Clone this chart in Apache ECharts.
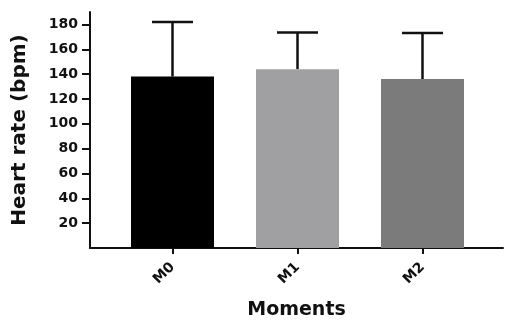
<!DOCTYPE html>
<html><head><meta charset="utf-8">
<script src="https://cdn.jsdelivr.net/npm/echarts@6/dist/echarts.min.js"></script>
<style>html,body{margin:0;padding:0;background:#fff}#c{width:505px;height:320px}</style>
</head><body><div id="c"></div>
<script>
var categories = ['M0', 'M1', 'M2'];
var means = [138, 144, 136];
var upperErr = [182, 173.5, 173];
var barColors = ['#000000', '#a0a0a2', '#7b7b7b'];
var yTickLabels = [20, 40, 60, 80, 100, 120, 140, 160, 180];

var chart = echarts.init(document.getElementById('c'));
var font = '"DejaVu Sans", Arial, sans-serif';
chart.setOption({
  animation: false,
  grid: {left: 90, right: 2, top: 12, bottom: 72, containLabel: false, outerBoundsMode: 'none'},
  xAxis: {
    type: 'value', min: -0.66, max: 2.644, interval: 1,
    splitLine: {show: false},
    axisLine: {onZero: false, lineStyle: {color: '#111', width: 2}},
    axisTick: {show: true, length: 6, lineStyle: {color: '#111', width: 2},
      customValues: [0, 1, 2]},
    axisLabel: {rotate: 45, fontFamily: font, fontWeight: 'bold', fontSize: 14, color: '#111', margin: 17,
      customValues: [0, 1, 2],
      formatter: function (v) { return categories[Math.round(v)] || ''; }},
    name: 'Moments', nameLocation: 'middle', nameGap: 53,
    nameTextStyle: {fontFamily: font, fontWeight: 'bold', fontSize: 19, color: '#111'}
  },
  yAxis: {
    type: 'value', min: 0, max: 190, interval: 10,
    splitLine: {show: false},
    axisLine: {show: true, onZero: false, lineStyle: {color: '#111', width: 2}},
    axisTick: {show: true, length: 8, lineStyle: {color: '#111', width: 2}, customValues: yTickLabels},
    axisLabel: {fontFamily: font, fontWeight: 'bold', fontSize: 14, color: '#111', margin: 12, customValues: yTickLabels},
    name: 'Heart rate (bpm)', nameLocation: 'middle', nameGap: 60, nameRotate: 90,
    nameTextStyle: {fontFamily: font, fontWeight: 'bold', fontSize: 20, color: '#111'}
  },
  series: [
    {
      type: 'custom',
      renderItem: function (params, api) {
        var x = api.value(0);
        var top = api.coord([x, api.value(2)]);
        var mid = api.coord([x, api.value(1)]);
        return {type: 'group', children: [
          {type: 'line', shape: {x1: top[0], y1: top[1], x2: mid[0], y2: mid[1]}, style: {stroke: '#111', lineWidth: 2.5}},
          {type: 'line', shape: {x1: top[0] - 20.5, y1: top[1], x2: top[0] + 20.5, y2: top[1]}, style: {stroke: '#111', lineWidth: 2.5}}
        ]};
      },
      data: categories.map(function (c, i) { return [i, means[i], upperErr[i]]; }),
      z: 1
    },
    {
      type: 'bar', barWidth: 83,
      data: categories.map(function (c, i) { return {value: [i, means[i]], itemStyle: {color: barColors[i]}}; }),
      z: 2
    }
  ]
});
</script></body></html>
